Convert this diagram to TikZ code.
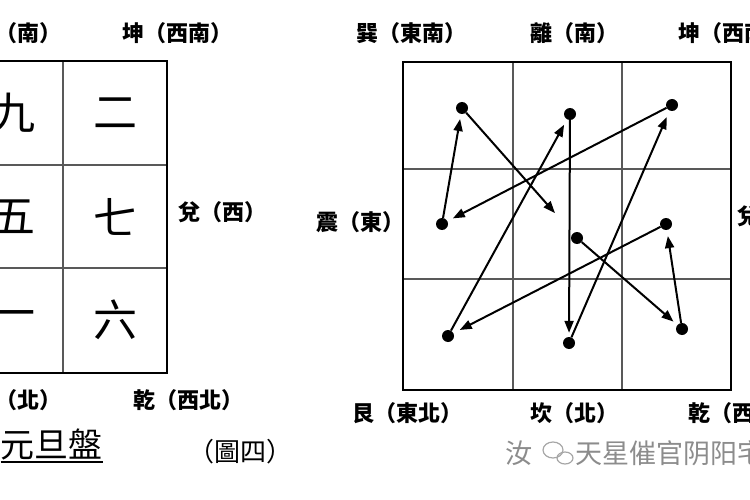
\documentclass[tikz,border=0pt]{standalone}
\usepackage{fontspec}
\usetikzlibrary{arrows.meta}
\newfontfamily\cjk{Noto Sans CJK TC}
\newfontfamily\cjksc{Noto Sans CJK SC}
\begin{document}
\begin{tikzpicture}[x=1pt,y=-1pt,
  outer/.style={line width=2.4pt},
  inner/.style={line width=1.4pt, black!65},
  num/.style={font=\cjk\fontsize{44}{44}\selectfont, inner sep=0pt},
  lab/.style={font=\cjk\bfseries\fontsize{22}{22}\selectfont, inner sep=0pt},
  dot/.style={circle, fill=black, minimum size=12pt, inner sep=0pt},
  arr/.style={line width=2pt, -{Triangle[length=12pt,width=9pt]}, shorten >=#1},
  wm/.style={font=\cjksc\fontsize{27}{27}\selectfont, inner sep=0pt, text=black!45}
]
\useasboundingbox (0,0) rectangle (750,500);
\clip (0,0) rectangle (750,500);
% ---------- left grid ----------
\draw[inner] (63,61) -- (63,373);
\draw[inner] (-41,165) -- (167,165);
\draw[inner] (-41,268) -- (167,268);
\draw[outer] (-41,61) rectangle (167,373);
\node[num] (n9) at (13,113) {九};
\node[num] (n2) at (115,113) {二};
\node[num] (n5) at (13,217) {五};
\node[num] (n7) at (115,217) {七};
\node[num] (n1) at (13,320) {一};
\node[num] (n6) at (115,320) {六};
\node[lab, anchor=east] (lS) at (62,33) {離（南）};
\node[lab] (lSW) at (177,33) {坤（西南）};
\node[lab] (lW) at (222,212) {兌（西）};
\node[lab, anchor=east] (lN) at (62,400) {坎（北）};
\node[lab] (lNW) at (188,400) {乾（西北）};
\node[font=\cjk\fontsize{34}{34}\selectfont, inner sep=0pt, anchor=east] (title) at (103,444) {元旦盤};
\draw[line width=1.5pt] ([yshift=-2pt]title.south west) -- ([yshift=-2pt]title.south east);
\node[font=\cjk\fontsize{26}{26}\selectfont, inner sep=0pt] (fig) at (240,452) {（圖四）};
% ---------- right grid ----------
\draw[inner] (513,62) -- (513,390);
\draw[inner] (622,62) -- (622,390);
\draw[inner] (403,169) -- (731,169);
\draw[inner] (403,279) -- (731,279);
\draw[outer] (403,62) rectangle (731,390);
\node[lab] (rSE) at (411,33) {巽（東南）};
\node[lab] (rS) at (574,33) {離（南）};
\node[lab, anchor=west] (rSW) at (678,33) {坤（西南）};
\node[lab] (rE) at (360,222) {震（東）};
\node[lab, anchor=west] (rW) at (737,216) {兌（西）};
\node[lab] (rNE) at (407,413) {艮（東北）};
\node[lab] (rN) at (574,413) {坎（北）};
\node[lab, anchor=west] (rNW) at (688,413) {乾（西北）};
% dots
\node[dot] (A) at (462,108) {};
\node[dot] (B) at (570,114) {};
\node[dot] (C) at (672,105) {};
\node[dot] (D) at (442,224) {};
\node[dot] (E) at (577,238) {};
\node[dot] (F) at (666,224) {};
\node[dot] (G) at (448,336) {};
\node[dot] (H) at (569,343) {};
\node[dot] (I) at (682,329) {};
% arrows
\draw[arr=5pt] (E) -- (I);
\draw[arr=6pt] (I) -- (F);
\draw[arr=7pt] (F) -- (G);
\draw[arr=6pt] (G) -- (B);
\draw[arr=4pt] (B) -- (H);
\draw[arr=7pt] (H) -- (C);
\draw[arr=6pt] (C) -- (D);
\draw[arr=5pt] (D) -- (A);
\draw[arr=27pt] (A) -- (E);
% watermark
\node[wm] (wm1) at (519,453) {汝};
\draw[black!35, line width=1.2pt] (553,450) ellipse (10pt and 8pt);
\draw[black!35, line width=1.2pt] (565,458) ellipse (8pt and 6pt);
\node[wm, anchor=west] (wm2) at (575,453) {天星催官阴阳宅};
\end{tikzpicture}
\end{document}
